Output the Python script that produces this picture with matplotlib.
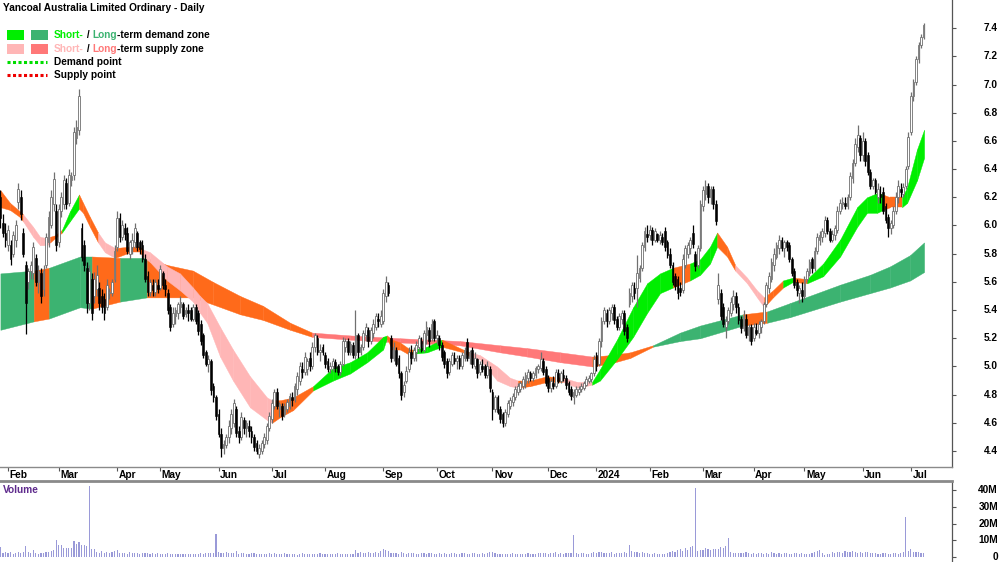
import matplotlib
matplotlib.use('Agg')
import matplotlib.pyplot as plt
import numpy as np
from matplotlib.lines import Line2D
from matplotlib.patches import Rectangle

# ---------------- data (o, h, l, c) per month ----------------
jan23 = [(6.20,6.25,5.98,6.05),(6.02,6.08,5.92,5.95),(5.95,6.02,5.85,5.90)]
feb23 = [(5.86,6.00,5.82,5.97),(5.86,5.90,5.72,5.76),(5.80,5.96,5.78,5.93),(5.90,6.04,5.85,6.00),
         (6.17,6.30,6.12,6.26),(6.20,6.25,6.04,6.08),(5.95,5.98,5.78,5.80),(5.72,5.75,5.23,5.45),
         (5.60,5.70,5.55,5.68),(5.68,5.75,5.62,5.72),(5.66,5.88,5.62,5.85),(5.77,5.80,5.57,5.60),
         (5.60,5.72,5.52,5.68),(5.66,5.70,5.45,5.50),(5.55,5.72,5.50,5.68),(5.72,5.95,5.70,5.92),
         (5.88,6.10,5.85,6.06),(6.00,6.25,5.98,6.20),(6.15,6.38,6.10,6.33),(6.10,6.15,5.82,5.86)]
mar23 = [(5.88,6.15,5.85,6.12),(6.10,6.24,6.06,6.20),(6.15,6.36,6.12,6.32),(6.30,6.34,6.12,6.15),
         (6.16,6.40,6.14,6.36),(6.32,6.38,6.28,6.35),(6.36,6.70,6.32,6.66),(6.62,6.75,6.58,6.70),
         (6.68,6.97,6.64,6.92),(5.98,6.02,5.75,5.78),(5.86,5.90,5.68,5.72),(5.70,5.74,5.38,5.45),
         (5.45,5.72,5.40,5.68),(5.62,5.66,5.33,5.38),(5.50,5.67,5.45,5.62),(5.55,5.72,5.50,5.65),
         (5.56,5.60,5.40,5.45),(5.50,5.55,5.38,5.42),(5.48,5.52,5.33,5.38),(5.42,5.62,5.40,5.58),
         (5.52,5.56,5.48,5.53),(5.52,5.62,5.50,5.60),(5.62,5.86,5.60,5.82)]
apr23 = [(5.85,6.10,5.82,6.05),(6.05,6.09,5.88,5.92),(5.92,6.04,5.90,6.00),(5.98,6.02,5.90,5.94),
         (5.95,5.99,5.80,5.82),(5.80,5.90,5.76,5.88),(5.85,5.95,5.80,5.90),(5.88,6.02,5.84,5.98),
         (5.95,5.96,5.82,5.85),(5.88,5.90,5.80,5.83),(5.86,5.90,5.74,5.76),(5.76,5.80,5.60,5.62),
         (5.64,5.68,5.50,5.53),(5.53,5.62,5.50,5.60),(5.58,5.62,5.50,5.54),(5.53,5.62,5.50,5.60),
         (5.58,5.62,5.52,5.55)]
may23 = [(5.56,5.72,5.54,5.69),(5.66,5.68,5.55,5.58),(5.58,5.62,5.50,5.55),(5.52,5.55,5.37,5.40),
         (5.42,5.44,5.25,5.28),(5.30,5.42,5.28,5.38),(5.36,5.42,5.30,5.40),(5.38,5.46,5.34,5.44),
         (5.42,5.50,5.38,5.46),(5.44,5.46,5.34,5.36),(5.37,5.42,5.35,5.40),(5.40,5.44,5.32,5.38),
         (5.40,5.42,5.32,5.34),(5.34,5.44,5.32,5.42),(5.42,5.44,5.30,5.32),(5.38,5.40,5.22,5.25),
         (5.30,5.33,5.15,5.18),(5.22,5.24,5.06,5.08),(5.10,5.12,5.00,5.02),(5.02,5.08,4.96,5.05),
         (5.04,5.05,4.80,4.83),(4.86,4.88,4.75,4.78),(4.78,4.80,4.62,4.65)]
jun23 = [(4.66,4.70,4.50,4.52),(4.52,4.56,4.36,4.42),(4.42,4.48,4.38,4.45),(4.44,4.52,4.42,4.50),
         (4.50,4.62,4.46,4.58),(4.56,4.70,4.52,4.66),(4.60,4.77,4.57,4.74),(4.70,4.72,4.50,4.53),
         (4.54,4.58,4.46,4.50),(4.50,4.68,4.48,4.64),(4.62,4.64,4.52,4.56),(4.56,4.62,4.50,4.60),
         (4.58,4.62,4.50,4.54),(4.54,4.58,4.46,4.50),(4.50,4.52,4.40,4.43),(4.46,4.48,4.38,4.40),
         (4.38,4.45,4.35,4.42),(4.40,4.48,4.38,4.46),(4.45,4.53,4.42,4.50),(4.48,4.60,4.45,4.58),
         (4.56,4.68,4.54,4.65)]
jul23 = [(4.63,4.77,4.60,4.74),(4.72,4.84,4.70,4.82),(4.82,4.85,4.70,4.72),(4.70,4.75,4.64,4.73),
         (4.72,4.74,4.62,4.65),(4.66,4.74,4.64,4.72),(4.70,4.77,4.68,4.75),(4.72,4.81,4.70,4.79),
         (4.78,4.82,4.72,4.76),(4.77,4.88,4.75,4.86),(4.84,4.96,4.80,4.93),(4.90,5.03,4.87,5.00),
         (4.98,5.03,4.92,4.96),(4.96,5.10,4.94,5.07),(4.98,5.06,4.94,5.04),(5.06,5.10,4.97,5.00),
         (5.00,5.17,4.98,5.14),(5.14,5.24,5.10,5.22),(5.20,5.22,5.08,5.10),(5.10,5.16,5.04,5.12),
         (5.14,5.16,5.08,5.10)]
aug23 = [(5.08,5.10,4.99,5.02),(5.04,5.06,4.96,4.98),(4.98,5.03,4.95,5.00),(5.00,5.06,4.97,5.04),
         (5.03,5.05,4.96,4.99),(5.00,5.02,4.94,4.96),(4.96,5.04,4.94,5.02),(5.02,5.21,5.00,5.18),
         (5.14,5.20,5.10,5.18),(5.18,5.20,5.08,5.10),(5.10,5.18,5.08,5.16),(5.15,5.17,5.06,5.08),
         (5.08,5.40,5.05,5.22),(5.22,5.24,5.06,5.10),(5.10,5.16,5.08,5.14),(5.14,5.26,5.12,5.24),
         (5.22,5.31,5.18,5.28),(5.26,5.28,5.14,5.18),(5.18,5.28,5.16,5.26),(5.24,5.34,5.20,5.30),
         (5.28,5.38,5.26,5.36),(5.34,5.38,5.28,5.32),(5.30,5.40,5.28,5.36)]
sep23 = [(5.32,5.55,5.30,5.52),(5.50,5.64,5.46,5.60),(5.58,5.60,5.50,5.52),(5.20,5.22,5.03,5.06),
         (5.06,5.17,5.04,5.14),(5.12,5.14,5.00,5.02),(5.06,5.08,4.92,4.95),(4.95,4.97,4.76,4.80),
         (4.82,4.90,4.78,4.87),(4.90,5.00,4.88,4.97),(4.98,5.14,4.96,5.10),(5.10,5.15,5.02,5.06),
         (5.06,5.14,5.04,5.12),(5.10,5.18,5.04,5.15),(5.14,5.22,5.10,5.20),(5.18,5.21,5.10,5.12),
         (5.12,5.26,5.10,5.24),(5.22,5.32,5.16,5.28),(5.26,5.28,5.14,5.18),(5.20,5.34,5.18,5.30),
         (5.32,5.34,5.18,5.20)]
oct23 = [(5.20,5.26,5.16,5.22),(5.20,5.22,5.12,5.15),(5.15,5.17,5.04,5.07),(5.10,5.12,4.99,5.02),
         (5.04,5.06,4.92,4.95),(4.96,5.06,4.94,5.04),(5.02,5.10,5.00,5.08),(5.06,5.10,5.02,5.04),
         (5.04,5.08,4.98,5.06),(5.06,5.08,4.98,5.00),(5.00,5.10,4.98,5.08),(5.06,5.14,5.04,5.12),
         (5.17,5.20,5.04,5.06),(5.06,5.12,5.02,5.10),(5.12,5.14,4.99,5.02),(5.00,5.10,4.98,5.06),
         (5.05,5.06,4.92,4.95),(4.96,5.04,4.94,5.02),(5.00,5.05,4.96,4.98),(5.00,5.02,4.92,4.94),
         (4.94,5.04,4.92,5.00),(4.98,5.00,4.82,4.85)]
nov23 = [(4.82,4.84,4.62,4.70),(4.70,4.80,4.68,4.78),(4.78,4.80,4.66,4.68),(4.70,4.72,4.60,4.63),
         (4.66,4.68,4.57,4.60),(4.60,4.70,4.58,4.68),(4.66,4.76,4.64,4.74),(4.72,4.78,4.70,4.76),
         (4.75,4.81,4.72,4.79),(4.78,4.86,4.76,4.84),(4.82,4.88,4.80,4.86),(4.84,4.90,4.82,4.88),
         (4.86,4.93,4.84,4.91),(4.88,4.96,4.85,4.94),(4.92,4.98,4.88,4.96),(4.95,4.97,4.90,4.92),
         (4.92,4.97,4.90,4.95),(4.94,5.00,4.92,4.99),(4.98,5.02,4.95,5.00),(4.99,5.10,4.97,5.05),
         (5.04,5.06,4.94,4.96),(4.98,5.00,4.86,4.88)]
dec23 = [(4.92,4.94,4.82,4.85),(4.85,4.92,4.82,4.90),(4.88,4.93,4.84,4.86),(4.86,4.98,4.85,4.96),
         (4.95,4.98,4.88,4.90),(4.90,4.97,4.88,4.95),(4.94,4.98,4.90,4.92),(4.92,4.94,4.84,4.87),
         (4.88,4.90,4.80,4.82),(4.84,4.86,4.76,4.79),(4.78,4.84,4.73,4.82),(4.80,4.86,4.78,4.84),
         (4.82,4.86,4.80,4.84),(4.84,4.88,4.82,4.86),(4.85,4.90,4.83,4.88),(4.87,4.93,4.86,4.91),
         (4.90,4.94,4.88,4.92),(4.91,4.96,4.89,4.95),(4.95,5.08,4.93,5.05)]
jan24 = [(5.08,5.10,4.97,5.00),(5.02,5.20,5.00,5.18),(5.18,5.35,5.14,5.32),(5.32,5.42,5.30,5.40),
         (5.38,5.41,5.28,5.32),(5.32,5.42,5.30,5.40),(5.38,5.44,5.33,5.42),(5.42,5.44,5.30,5.33),
         (5.34,5.36,5.26,5.28),(5.28,5.38,5.26,5.36),(5.34,5.40,5.30,5.38),(5.38,5.40,5.22,5.25),
         (5.28,5.30,5.17,5.20),(5.44,5.56,5.42,5.52),(5.50,5.60,5.46,5.58),(5.56,5.60,5.48,5.52),
         (5.56,5.79,5.42,5.66),(5.63,5.72,5.60,5.70),(5.70,5.88,5.68,5.86),(5.85,5.99,5.82,5.96),
         (5.94,6.00,5.88,5.92)]
feb24 = [(5.93,6.00,5.90,5.97),(5.97,5.99,5.86,5.90),(5.90,5.98,5.88,5.96),(5.94,5.95,5.88,5.90),
         (5.90,5.96,5.87,5.93),(5.92,5.95,5.86,5.88),(5.96,5.99,5.82,5.85),(5.88,5.90,5.77,5.79),
         (5.80,5.84,5.70,5.72),(5.72,5.74,5.58,5.60),(5.64,5.66,5.54,5.57),(5.62,5.64,5.48,5.52),
         (5.56,5.60,5.50,5.53),(5.54,5.80,5.52,5.76),(5.72,5.86,5.70,5.84),(5.80,5.88,5.77,5.86),
         (5.84,5.92,5.80,5.90),(5.95,6.00,5.84,5.87),(5.80,5.82,5.68,5.71),(5.72,5.86,5.70,5.84),
         (5.84,6.18,5.82,6.15)]
mar24 = [(6.14,6.28,6.10,6.25),(6.22,6.32,6.18,6.28),(6.28,6.30,6.16,6.20),(6.20,6.28,6.15,6.26),
         (6.26,6.28,6.12,6.15),(6.15,6.18,6.00,6.03),(5.48,5.66,5.44,5.58),(5.52,5.55,5.33,5.36),
         (5.42,5.45,5.28,5.30),(5.28,5.36,5.20,5.32),(5.32,5.42,5.30,5.40),(5.38,5.49,5.36,5.46),
         (5.44,5.54,5.40,5.50),(5.50,5.53,5.38,5.42),(5.42,5.45,5.30,5.33),(5.34,5.36,5.24,5.27),
         (5.27,5.40,5.25,5.36),(5.34,5.37,5.20,5.22),(5.22,5.30,5.18,5.28),(5.28,5.30,5.15,5.18)]
apr24 = [(5.20,5.31,5.18,5.28),(5.26,5.31,5.22,5.24),(5.24,5.32,5.20,5.30),(5.28,5.34,5.24,5.32),
         (5.32,5.46,5.30,5.44),(5.44,5.60,5.42,5.58),(5.56,5.67,5.52,5.64),(5.62,5.77,5.60,5.74),
         (5.72,5.84,5.68,5.80),(5.78,5.88,5.76,5.86),(5.84,5.93,5.80,5.90),(5.90,5.92,5.82,5.84),
         (5.84,5.90,5.78,5.88),(5.88,5.90,5.82,5.85),(5.86,5.88,5.74,5.76),(5.76,5.78,5.64,5.66),
         (5.68,5.70,5.56,5.58),(5.60,5.62,5.50,5.54),(5.52,5.58,5.45,5.56),(5.54,5.60,5.46,5.50)]
may24 = [(5.50,5.64,5.48,5.62),(5.62,5.70,5.60,5.68),(5.66,5.76,5.64,5.74),(5.76,5.78,5.66,5.70),
         (5.70,5.85,5.68,5.82),(5.82,5.95,5.80,5.92),(5.90,5.96,5.86,5.93),(5.92,5.98,5.88,5.96),
         (5.95,6.07,5.92,6.04),(6.04,6.06,5.94,5.96),(5.96,5.98,5.88,5.90),(5.90,5.97,5.88,5.94),
         (5.93,6.00,5.90,5.98),(5.97,6.14,5.95,6.10),(6.10,6.19,6.08,6.16),(6.15,6.20,6.12,6.17),
         (6.16,6.20,6.12,6.14),(6.14,6.22,6.12,6.20),(6.20,6.38,6.18,6.35),(6.34,6.47,6.30,6.44),
         (6.44,6.62,6.42,6.58),(6.56,6.71,6.52,6.64),(6.62,6.64,6.46,6.50)]
jun24 = [(6.50,6.66,6.46,6.60),(6.60,6.62,6.42,6.46),(6.50,6.52,6.36,6.38),(6.38,6.40,6.26,6.28),
         (6.28,6.34,6.26,6.32),(6.32,6.34,6.22,6.24),(6.20,6.30,6.16,6.26),(6.22,6.28,6.16,6.20),
         (6.24,6.27,6.08,6.10),(6.14,6.16,6.02,6.04),(6.06,6.08,5.92,5.98),(5.98,6.04,5.94,6.02),
         (6.00,6.14,5.98,6.10),(6.10,6.24,6.08,6.20),(6.20,6.32,6.16,6.28),(6.26,6.30,6.20,6.24),
         (6.22,6.30,6.20,6.27),(6.28,6.42,6.26,6.40),(6.42,6.66,6.40,6.63)]
jul24 = [(6.66,6.95,6.64,6.92),(6.92,7.04,6.88,7.02),(7.02,7.20,7.00,7.18),(7.18,7.30,7.15,7.28),
         (7.28,7.36,7.26,7.34),(7.34,7.44,7.32,7.42)]

# volume in millions, per month
vol_jan23 = [6.0,2.5,2.8]
vol_feb23 = [2.2,3.0,2.0,2.6,3.2,2.4,2.8,6.6,3.0,2.2,4.4,2.5,2.0,2.4,2.2,2.8,3.0,3.5,4.0,10.0]
vol_mar23 = [7.0,7.0,5.5,5.4,5.4,5.4,9.4,8.0,9.0,7.0,7.0,6.6,42.5,5.0,5.0,3.0,2.5,3.5,2.5,3.0,2.2,2.8,3.5]
vol_apr23 = [4.0,2.6,2.2,2.4,2.0,2.8,2.4,2.2,2.5,2.0,2.3,2.6,2.1,1.8,2.2,2.0,2.4]
vol_may23 = [1.8,1.6,1.5,2.2,1.9,1.6,1.5,1.8,2.0,1.7,1.6,1.9,1.8,2.0,1.7,1.8,2.2,2.0,2.4,2.1,2.6,2.3,14.0]
vol_jun23 = [3.2,2.5,2.2,2.8,2.4,2.6,2.2,3.5,2.0,2.2,2.6,2.0,1.8,2.4,2.2,1.6,1.8,1.5,2.0,1.8,2.2]
vol_jul23 = [1.8,2.2,2.0,1.6,1.8,2.4,2.0,1.7,1.5,1.6,1.4,1.8,2.2,2.0,1.7,1.6,2.0,1.8,1.6,2.2,1.8]
vol_aug23 = [2.0,1.6,1.8,1.5,1.7,2.4,2.0,1.9,1.6,1.5,1.8,2.0,4.4,2.6,2.8,2.6,2.4,3.0,2.6,2.4,2.8,2.6,3.4]
vol_sep23 = [5.0,4.2,3.8,2.6,2.4,2.2,2.0,2.8,2.2,2.0,2.4,2.2,2.6,2.0,1.8,2.2,2.4,2.0,2.2,2.6,2.0]
vol_oct23 = [2.0,2.2,1.8,2.4,2.0,1.8,2.2,2.6,2.0,1.8,2.4,2.2,2.0,1.9,2.2,2.5,2.0,1.8,2.3,2.0,2.6,3.0]
vol_nov23 = [3.2,2.4,2.0,1.6,1.8,1.5,1.7,1.6,2.4,1.8,2.0,1.7,1.9,2.0,2.2,1.8,1.7,2.0,2.2,2.4,2.1,2.6]
vol_dec23 = [2.0,2.4,2.2,2.8,1.8,2.2,2.0,2.4,2.6,2.2,13.0,2.4,2.0,2.6,2.2,1.8,2.0,2.4,3.0]
vol_jan24 = [2.4,2.8,3.2,2.6,2.4,2.2,2.8,2.0,2.4,2.6,2.2,3.0,2.4,7.3,3.4,2.8,3.0,2.6,2.8,2.4,2.2]
vol_feb24 = [2.0,1.8,2.2,1.8,2.0,1.7,2.0,2.4,3.0,3.4,3.0,4.0,4.6,3.6,5.4,4.0,5.8,6.8,41.0,3.6,4.0]
vol_mar24 = [4.4,5.6,4.8,4.2,4.6,4.8,5.0,6.0,5.2,6.4,11.5,3.0,2.6,2.4,2.6,2.2,2.4,2.8,2.2,2.0]
vol_apr24 = [2.4,2.0,2.6,2.2,1.8,2.4,2.0,2.8,2.2,1.6,2.4,2.0,2.2,2.6,2.0,1.8,2.2,2.4,2.0,2.6]
vol_may24 = [2.0,1.8,1.6,2.4,2.8,3.6,4.2,2.4,1.4,2.0,1.6,3.0,2.6,3.2,2.8,2.4,3.6,3.0,2.8,3.4,3.0,2.6,2.8]
vol_jun24 = [2.4,2.8,3.0,2.2,2.6,2.4,2.0,1.8,2.2,2.4,2.0,1.8,2.6,2.2,2.0,2.4,3.0,24.0,3.4]
vol_jul24 = [5.0,3.2,2.8,3.0,2.6,2.4]

month_labels = ['Feb','Mar','Apr','May','Jun','Jul','Aug','Sep','Oct','Nov','Dec',
                '2024','Feb','Mar','Apr','May','Jun','Jul']
price_ticks = [4.4,4.6,4.8,5.0,5.2,5.4,5.6,5.8,6.0,6.2,6.4,6.6,6.8,7.0,7.2,7.4]
vol_ticks = [0,10,20,30,40]
vol_tick_labels = ['0','10M','20M','30M','40M']

# zones: knot position (bar index), upper, lower, colour of the interval starting there
short_x = [0,3.8,7.7,8.9,12.9,15.6,18.4,19.6,21.5,24.3,27.4,31.0,32.6,35.3,38.5,41.2,45.2,51.1,55.0,
           56.2,59.0,65.7,70.8,75.9,78.7,81.5,86.6,91.7,98.4,105.1,107.1,110.3,115.4,123.3,131.2,
           137.9,144.6,150.9,152.4,154.4,157.6,161.5,162.7,168.2,174.1,182.4,185.2,189.1,195.8,
           200.9,204.1,208.8,215.5,221.8,227.4,233.3,236.4,243.1,249.5,255.0,260.1,265.2,271.9,
           275.9,279.8,282.6,286.5,289.7,294.4,298.3,301.1,304.6,308.6,312.5,318.1,324.4,331.1,
           337.8,341.7,345.7,348.0,350.8,355.5,357.5,361.4,364.2]
short_hi = [6.25,6.16,6.10,6.08,5.99,5.92,5.91,5.92,5.93,5.97,6.10,6.22,6.16,6.06,5.95,5.88,5.84,5.85,5.85,
            5.83,5.81,5.71,5.66,5.56,5.50,5.45,5.28,5.12,4.93,4.78,4.76,4.76,4.78,4.86,4.99,
            5.03,5.10,5.21,5.22,5.19,5.17,5.12,5.12,5.14,5.19,5.12,5.10,5.08,5.00,
            4.92,4.90,4.90,4.93,4.92,4.89,4.89,4.98,5.19,5.42,5.59,5.66,5.70,5.73,
            5.76,5.85,5.95,5.85,5.72,5.63,5.54,5.49,5.54,5.61,5.63,5.62,5.73,5.90,
            6.13,6.20,6.23,6.22,6.20,6.20,6.27,6.54,6.68]
short_lo = [6.13,6.11,6.06,6.03,5.92,5.86,5.86,5.88,5.91,5.95,6.03,6.12,6.09,5.99,5.88,5.81,5.77,5.81,5.81,
            5.78,5.74,5.61,5.54,5.46,5.38,5.31,5.07,4.90,4.71,4.62,4.60,4.64,4.69,4.83,4.90,
            4.95,5.03,5.12,5.20,5.12,5.12,5.08,5.09,5.10,5.14,5.10,5.07,5.05,4.90,
            4.86,4.85,4.86,4.89,4.89,4.85,4.87,4.90,5.05,5.21,5.38,5.52,5.56,5.61,
            5.65,5.73,5.85,5.78,5.68,5.59,5.49,5.42,5.49,5.56,5.60,5.59,5.64,5.78,
            5.99,6.09,6.09,6.11,6.13,6.13,6.16,6.32,6.48]
short_col = 'OOOPPPPOOGGOOOPPOOOPPPPPPPPPPPOOOGGGGGOOOOGGOOPPPPOOOPPGGGGGGOGGGOOPPPOOGOGGGGGGOOGGGG'

long_x = [0,13.2,19.2,31.4,36.1,47.2,57.8,65.7,75.9,83.8,94.5,103.5,114.2,122.9,137.9,157.6,181.2,
          197.0,207.7,220.7,233.3,240.4,248.3,257.3,268.0,275.9,292.8,302.3,311.4,331.1,342.9,
          350.8,358.7,364.2]
long_hi = [5.66,5.68,5.70,5.78,5.78,5.77,5.77,5.72,5.68,5.60,5.50,5.43,5.31,5.24,5.22,5.20,5.18,
           5.15,5.13,5.10,5.07,5.08,5.10,5.15,5.24,5.29,5.37,5.39,5.45,5.58,5.65,5.71,5.79,5.88]
long_lo = [5.26,5.32,5.34,5.42,5.41,5.46,5.49,5.49,5.49,5.44,5.37,5.33,5.26,5.21,5.19,5.17,5.15,
           5.10,5.07,5.03,5.00,5.02,5.06,5.14,5.18,5.20,5.29,5.31,5.35,5.46,5.52,5.56,5.61,5.67]
long_col = 'DODDODOOOOOOOSSSSSSSOOODDDODDDDDD'

# ---------------- styling ----------------
plt.rcParams['font.family'] = ['Liberation Sans', 'DejaVu Sans']
FS = 7.25
C_SG = '#00EE00'   # short-term demand
C_LG = '#3CB371'   # long-term demand
C_SP = '#FFB6B6'   # short-term supply
C_LS = '#FF7878'   # long-term supply
C_OR = '#FF6A1A'   # overlapping supply
palette = {'G': C_SG, 'D': C_LG, 'P': C_SP, 'S': C_LS, 'O': C_OR}

months = [jan23, feb23, mar23, apr23, may23, jun23, jul23, aug23, sep23, oct23, nov23, dec23,
          jan24, feb24, mar24, apr24, may24, jun24, jul24]
vols = [vol_jan23, vol_feb23, vol_mar23, vol_apr23, vol_may23, vol_jun23, vol_jul23, vol_aug23,
        vol_sep23, vol_oct23, vol_nov23, vol_dec23, vol_jan24, vol_feb24, vol_mar24, vol_apr24,
        vol_may24, vol_jun24, vol_jul24]

bars = np.array([b for m in months for b in m])
o, h, l, c = bars.T
volume = np.array([v for m in vols for v in m])
N = len(bars)
idx = np.arange(N)
month_start = np.cumsum([0] + [len(m) for m in months])[1:-1]

fig = plt.figure(figsize=(10, 5.62), dpi=100)
W, H = 1000.0, 562.0
ax = fig.add_axes([0, (H - 466.5) / H, 952 / W, 466.5 / H])
axv = fig.add_axes([0, 0, 952 / W, (H - 481) / H])

XL = (-0.16, 375.2)
LABEL_X = 998 / 952.0   # right edge of axis labels, in axes fraction

def draw_band(xs, hi, lo, cols, z):
    for k in range(len(xs) - 1):
        col = palette[cols[k]]
        ax.fill_between([xs[k], xs[k + 1]], [lo[k], lo[k + 1]], [hi[k], hi[k + 1]],
                        facecolor=col, edgecolor=col, linewidth=0.3, zorder=z)

draw_band(long_x, long_hi, long_lo, long_col, 1)
draw_band(short_x, short_hi, short_lo, short_col, 2)

up = c >= o
ax.vlines(idx[up], l[up], h[up], color='#707070', lw=0.9, zorder=3)
ax.vlines(idx[~up], l[~up], h[~up], color='black', lw=0.9, zorder=3)
bot = np.minimum(o, c)
ht = np.maximum(np.abs(c - o), 0.006)
ax.bar(idx[up], ht[up], bottom=bot[up], width=0.7, facecolor='white',
       edgecolor='#707070', linewidth=0.6, zorder=4)
ax.bar(idx[~up], ht[~up], bottom=bot[~up], width=0.7, facecolor='black',
       edgecolor='black', linewidth=0.4, zorder=4)

ax.set_xlim(*XL)
ax.set_ylim(4.29, 7.60)
for s in ['left', 'top']:
    ax.spines[s].set_visible(False)
ax.spines['right'].set_color('#555555')
ax.spines['right'].set_linewidth(0.9)
ax.spines['bottom'].set_color('#8a8a8a')
ax.spines['bottom'].set_linewidth(1.0)
ax.yaxis.tick_right()
ax.set_yticks(price_ticks)
ax.tick_params(axis='y', direction='out', length=3, width=0.8, color='#555555',
               labelright=False, labelleft=False)
ytr = ax.get_yaxis_transform()
for v in price_ticks:
    ax.text(LABEL_X, v, f'{v:.1f}', transform=ytr, ha='right', va='center',
            fontsize=FS, fontweight='bold', clip_on=False)
ax.set_xticks(month_start)
ax.set_xticklabels([])
ax.tick_params(axis='x', direction='out', length=3, width=0.8, color='#555555')
for pos, lab in zip(month_start, month_labels):
    ax.text(pos + 0.6, -0.008, lab, transform=ax.get_xaxis_transform(), ha='left', va='top',
            fontsize=FS, fontweight='bold', color='black')

# volume
axv.bar(idx, volume, width=0.45, color='#9a9ad8', linewidth=0)
axv.set_xlim(*XL)
axv.set_ylim(-3, 45.4)
for s in ['left', 'bottom']:
    axv.spines[s].set_visible(False)
axv.spines['top'].set_color('#8a8a8a')
axv.spines['top'].set_linewidth(2.0)
axv.spines['right'].set_color('#555555')
axv.spines['right'].set_linewidth(0.9)
axv.yaxis.tick_right()
axv.set_yticks(vol_ticks)
axv.tick_params(axis='y', direction='out', length=3, width=0.8, color='#555555',
                labelright=False, labelleft=False)
vtr = axv.get_yaxis_transform()
for v, lab in zip(vol_ticks, vol_tick_labels):
    axv.text(LABEL_X, v, lab, transform=vtr, ha='right', va='center',
             fontsize=FS, fontweight='bold', clip_on=False)
axv.set_xticks([])
fig.text(3 / W, 1 - 490 / H, 'Volume', color='#5E2A8C', fontsize=FS, fontweight='bold',
         ha='left', va='center')

# title and legend
fig.text(3 / W, 1 - 8 / H, 'Yancoal Australia Limited Ordinary - Daily', fontsize=FS,
         fontweight='bold', ha='left', va='center')

def fx(x):
    return x / W

def fy(y):
    return 1 - y / H

for (x0, col) in [(7, C_SG), (31, C_LG)]:
    fig.patches.append(Rectangle((fx(x0), fy(40)), 17 / W, 10 / H, transform=fig.transFigure,
                                 facecolor=col, edgecolor='none'))
for (x0, col) in [(7, C_SP), (31, C_LS)]:
    fig.patches.append(Rectangle((fx(x0), fy(54)), 17 / W, 10 / H, transform=fig.transFigure,
                                 facecolor=col, edgecolor='none'))
fig.lines.append(Line2D([fx(7), fx(47)], [fy(62), fy(62)], transform=fig.transFigure,
                        color='#00DD00', lw=2.2, linestyle=(0, (1, 0.8))))
fig.lines.append(Line2D([fx(7), fx(47)], [fy(74.5), fy(74.5)], transform=fig.transFigure,
                        color='#EE0000', lw=2.2, linestyle=(0, (1, 0.8))))

def rainbow(x, y, parts):
    t = fig.text(x, y, parts[0][0], color=parts[0][1], fontsize=FS, fontweight='bold',
                 ha='left', va='center')
    for s, col in parts[1:]:
        t = ax.annotate(s, xy=(1, 0), xycoords=t, xytext=(0, 0), textcoords='offset points',
                        color=col, fontsize=FS, fontweight='bold', ha='left', va='bottom',
                        annotation_clip=False)

rainbow(fx(54), fy(35), [('Short-', C_SG), (' / ', 'black'), ('Long', C_LG),
                         ('-term demand zone', 'black')])
rainbow(fx(54), fy(49), [('Short-', C_SP), (' / ', 'black'), ('Long', C_LS),
                         ('-term supply zone', 'black')])
fig.text(fx(54), fy(62), 'Demand point', fontsize=FS, fontweight='bold', ha='left', va='center')
fig.text(fx(54), fy(74.5), 'Supply point', fontsize=FS, fontweight='bold', ha='left', va='center')

fig.savefig('out.png', dpi=100)
